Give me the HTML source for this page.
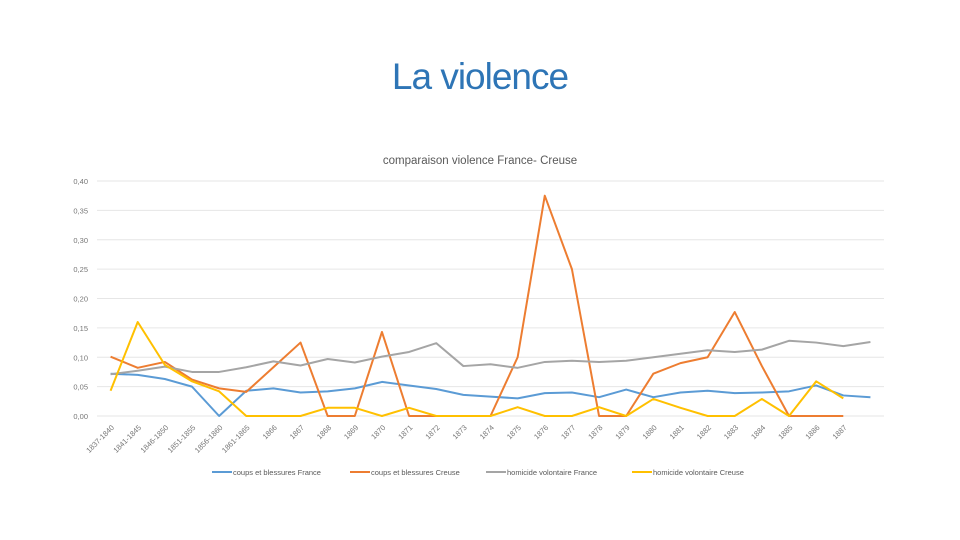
<!DOCTYPE html>
<html><head><meta charset="utf-8"><style>
body{margin:0;background:#fff;width:960px;height:540px;overflow:hidden;font-family:"Liberation Sans",sans-serif}
#t{position:absolute;left:0;width:960px;top:56px;text-align:center;font-size:37px;color:#2e75b6;letter-spacing:-1px}
svg{position:absolute;left:0;top:0}
</style></head><body>
<div id="t">La violence</div>
<svg id="c" width="960" height="540"></svg>
<script>
const categories=["1837-1840","1841-1845","1846-1850","1851-1855","1856-1860","1861-1865","1866","1867","1868","1869","1870","1871","1872","1873","1874","1875","1876","1877","1878","1879","1880","1881","1882","1883","1884","1885","1886","1887",""];
const coupsFrance=[0.072,0.070,0.063,0.050,0.000,0.043,0.047,0.040,0.042,0.047,0.058,0.052,0.046,0.036,0.033,0.030,0.039,0.040,0.032,0.045,0.032,0.040,0.043,0.039,0.040,0.042,0.052,0.035,0.032];
const coupsCreuse=[0.101,0.082,0.092,0.062,0.047,0.041,0.083,0.125,0,0,0.143,0,0,0,0,0.100,0.375,0.250,0,0,0.072,0.090,0.100,0.177,0.085,0,0,0,null];
const homFrance=[0.071,0.077,0.084,0.075,0.075,0.083,0.093,0.086,0.097,0.091,0.101,0.109,0.124,0.085,0.088,0.082,0.092,0.094,0.092,0.094,0.100,0.106,0.112,0.109,0.113,0.128,0.125,0.119,0.126];
const homCreuse=[0.043,0.160,0.087,0.059,0.042,0,0,0,0.014,0.014,0,0.014,0,0,0,0.015,0,0,0.015,0,0.029,0.014,0,0,0.029,0,0.059,0.030,null];
const yTicks=[0,0.05,0.10,0.15,0.20,0.25,0.30,0.35,0.40];
const series=[["coups et blessures France",coupsFrance,"#5b9bd5"],["coups et blessures Creuse",coupsCreuse,"#ed7d31"],["homicide volontaire France",homFrance,"#a5a5a5"],["homicide volontaire Creuse",homCreuse,"#ffc000"]];
const NS="http://www.w3.org/2000/svg",svg=document.getElementById('c');
const L=97,R=884,T=181,B=416;
const x=i=>L+(R-L)/categories.length*(i+0.5);
const y=v=>B-(B-T)*v/0.40;
function mk(tag,a,p){const e=document.createElementNS(NS,tag);for(const k in a)e.setAttribute(k,a[k]);(p||svg).appendChild(e);return e;}
const ct=mk('text',{x:480,y:164,'text-anchor':'middle','font-size':11.5,fill:'#595959'});ct.textContent='comparaison violence France- Creuse';


yTicks.forEach(v=>{
 const g=mk('line',{x1:L,x2:R,y1:y(v),y2:y(v),stroke:'#e6e6e6','stroke-width':1});
 
 
 const t=mk('text',{x:88,y:y(v)+3,'text-anchor':'end','font-size':7.5,fill:'#777'});t.textContent=v.toFixed(2).replace('.',',');
 
 
});
categories.forEach((c,i)=>{
 const t=mk('text',{x:x(i)+4,y:B+12,'text-anchor':'end','font-size':7.5,fill:'#777',transform:`rotate(-45 ${x(i)+4} ${B+12})`});t.textContent=c;
 
 
});
series.forEach(([n,d,col])=>{
 let p='';d.forEach((v,i)=>{if(v!==null)p+=(p?'L':'M')+x(i)+' '+y(v);});
 const e=mk('path',{d:p,fill:'none',stroke:col,'stroke-width':2,'stroke-linejoin':'round'});
 
 
});
const lx=[212,350,486,632];
series.forEach(([n,d,col],k)=>{
 const g=mk('g',{});
 
 
 mk('line',{x1:lx[k],x2:lx[k]+20,y1:472,y2:472,stroke:col,'stroke-width':2},g);
 const t=mk('text',{x:lx[k]+21,y:475,'font-size':7.5,fill:'#595959'},g);t.textContent=n;
});
</script>
</body></html>
